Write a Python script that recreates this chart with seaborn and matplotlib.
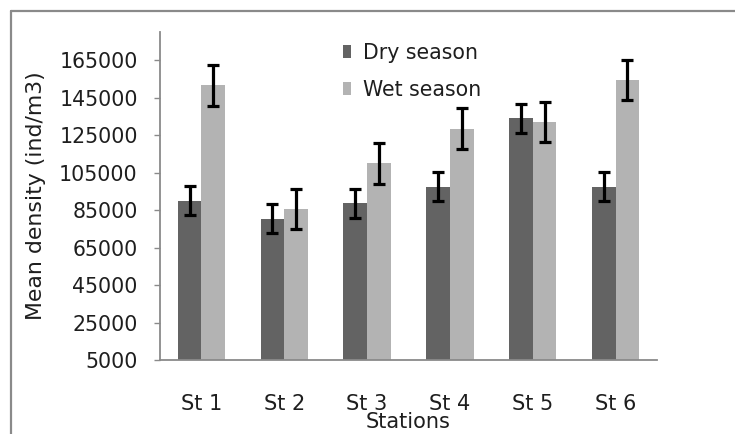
#
# Mean zooplankton density per station, dry vs wet season
#

import matplotlib
matplotlib.use("Agg")
import matplotlib.pyplot as plt
from matplotlib.lines import Line2D
import numpy as np
import pandas as pd
import seaborn as sns

stations = ["St 1", "St 2", "St 3", "St 4", "St 5", "St 6"]
seasons = ["Dry season", "Wet season"]
dry_mean = [90000, 80400, 88500, 97400, 133900, 97400]
wet_mean = [151500, 85400, 109900, 128400, 131800, 154300]
dry_err = [7700, 7650, 7550, 7650, 7550, 7650]
wet_err = [10800, 10750, 10750, 10850, 10750, 10650]
y_ticks = list(range(5000, 165001, 20000))

colors = {"Dry season": "#636363", "Wet season": "#b3b3b3"}
text_color = "#1e1e1e"
axis_gray = "#8a8a8a"

# long form table for seaborn
df = pd.DataFrame({
    "station": stations * 2,
    "season": [seasons[0]] * len(stations) + [seasons[1]] * len(stations),
    "density": dry_mean + wet_mean,
})

sns.set_style("white")
plt.rcParams["font.family"] = ["DejaVu Sans"]

fig = plt.figure(figsize=(7.35, 4.34), dpi=100)
ax = fig.add_axes([160 / 735, 74 / 434, 497 / 735, 328 / 434])

sns.barplot(data=df, x="station", y="density", hue="season", order=stations,
            hue_order=seasons, palette=colors, width=0.57, errorbar=None,
            saturation=1, legend=False, ax=ax, edgecolor="none")

# error bars on top of the seaborn bars
for container, errs in zip(ax.containers, [dry_err, wet_err]):
    xs = [b.get_x() + b.get_width() / 2 for b in container]
    ys = [b.get_height() for b in container]
    ax.errorbar(xs, ys, yerr=errs, fmt="none", ecolor="black",
                elinewidth=2.3, capsize=4.4, capthick=2.3, zorder=5)

ax.set_ylim(5000, 180000)
ax.set_xlim(-0.5, len(stations) - 0.5)
ax.set_yticks(y_ticks)
ax.set_yticklabels([str(v) for v in y_ticks])

# category boundaries get tick marks, labels sit in the middle
ax.set_xticks(np.arange(-0.5, len(stations), 1.0), minor=True)
ax.tick_params(axis="x", which="major", length=0, pad=24.5, labelsize=15,
               labelcolor=text_color)
ax.tick_params(axis="x", which="minor", length=6.5, width=1, color=axis_gray,
               direction="out")
ax.tick_params(axis="y", length=4.5, width=1, color=axis_gray, direction="out",
               pad=11.5, labelsize=14.8, labelcolor=text_color, left=True)

for side in ["top", "right"]:
    ax.spines[side].set_visible(False)
for side in ["left", "bottom"]:
    ax.spines[side].set_color(axis_gray)
    ax.spines[side].set_linewidth(1.3)

ax.set_xlabel("Stations", fontsize=15, color=text_color, va="top")
ax.xaxis.set_label_coords(0.5, -0.158)
ax.set_ylabel("Mean density (ind/m3)", fontsize=15.8, color=text_color)
ax.yaxis.set_label_coords(-0.229, 0.5)

ax.legend(handles=ax.containers, labels=seasons, loc="upper left",
          bbox_to_anchor=(343 / 735, 1 - 43 / 434), bbox_transform=fig.transFigure,
          frameon=False, fontsize=14.8, borderpad=0, borderaxespad=0,
          handlelength=0.39, handleheight=0.63, handletextpad=0.58,
          labelspacing=0.82, labelcolor=text_color)

# the outer chart border (only top and left show in the picture)
bx, by = 10.5 / 735, 1 - 10.5 / 434
fig.add_artist(Line2D([bx, bx], [0, by], transform=fig.transFigure,
                      color=axis_gray, linewidth=1.6))
fig.add_artist(Line2D([bx, 1], [by, by], transform=fig.transFigure,
                      color=axis_gray, linewidth=1.6))

fig.savefig("out.png", dpi=100)
